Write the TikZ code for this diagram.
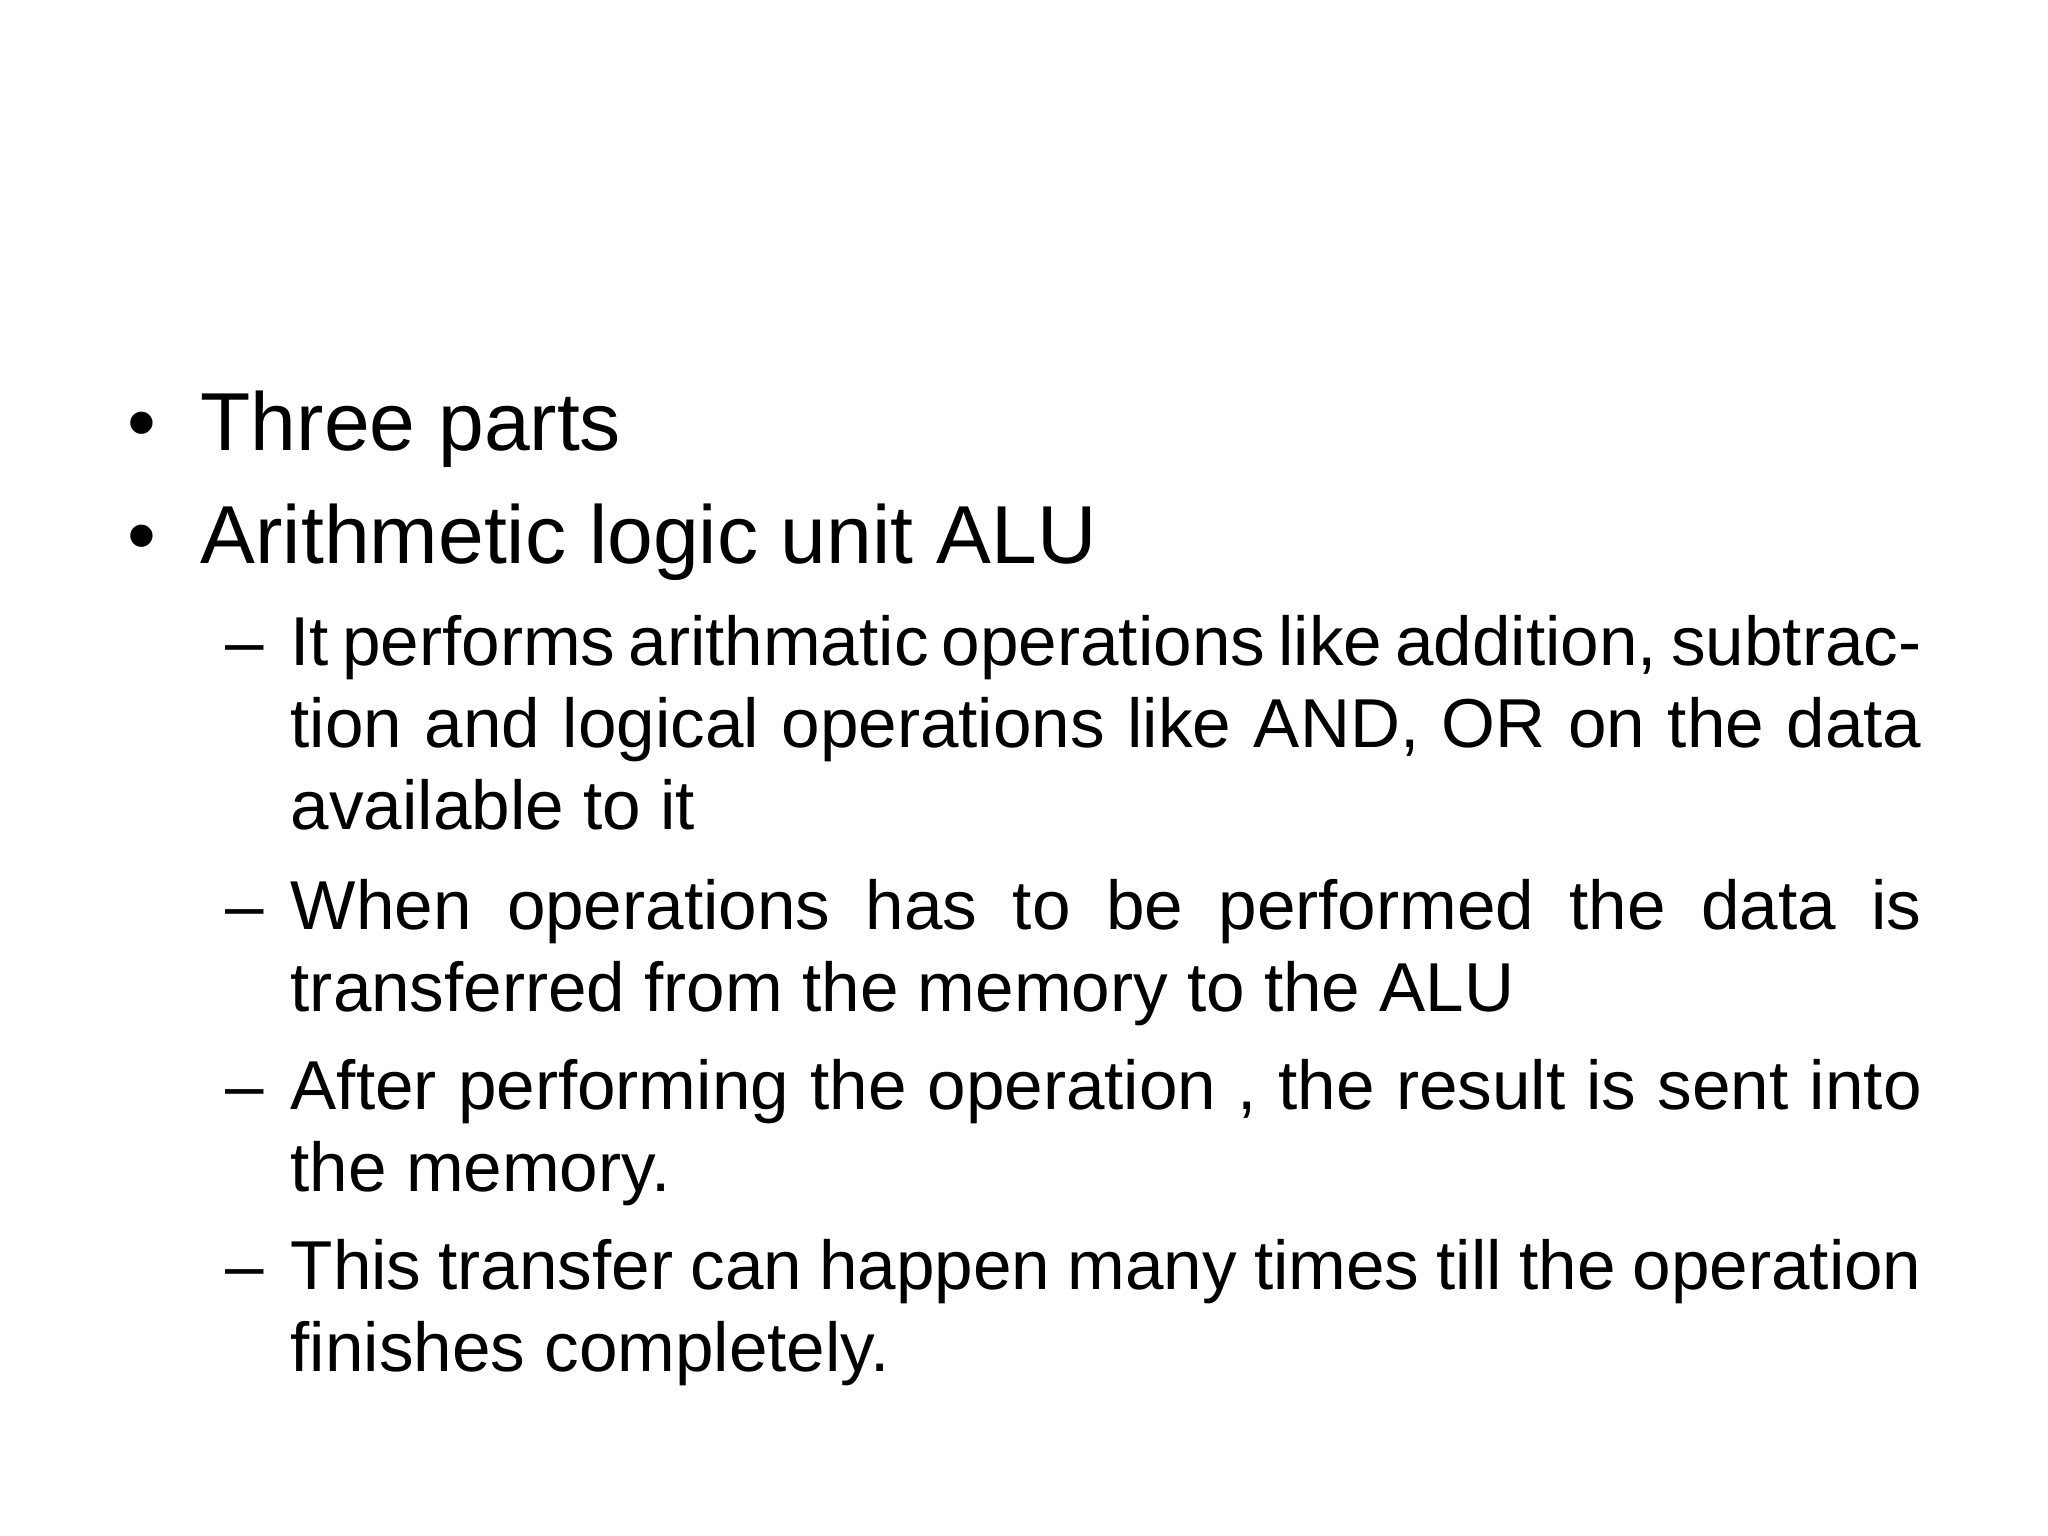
\documentclass[tikz,border=0pt]{standalone}
\usepackage{fontspec}
\setmainfont{Liberation Sans}
\usetikzlibrary{positioning}
\tikzset{
    mainitem/.style={anchor=base west, inner sep=0pt, font=\fontsize{23.4}{28}\selectfont},
    subitem/.style={anchor=base west, inner sep=0pt, text width=16.31cm, align=justify,
        font=\fontsize{19.7}{23.2}\selectfont},
    submark/.style={anchor=base west, inner sep=0pt, font=\fontsize{19.7}{23.2}\selectfont}
}
\begin{document}
\begin{tikzpicture}
    \useasboundingbox (0,0) rectangle (20.48,15.36);
%____________________________________________________________________________________________________
    \node[mainitem] (dotA) at (1.27,10.85) {•};
    \node[mainitem] (three) at (2.0,10.85) {Three parts};
    \node[mainitem] (dotB) at (1.27,9.72) {•};
    \node[mainitem] (alu) at (2.0,9.72) {Arithmetic logic unit ALU};
%____________________________________________________________________________________________________
    \node[submark] (dashA) at (2.25,8.70) {–};
    \node[subitem] (perform) at (2.90,8.70) {It performs arithmatic operations like addition, subtraction and logical operations like AND, OR on the data available to it};

    \node[submark] (dashB) at (2.25,6.06) {–};
    \node[subitem] (when) at (2.90,6.06) {When operations has to be performed the data is transferred from the memory to the ALU};

    \node[submark] (dashC) at (2.25,4.26) {–};
    \node[subitem] (after) at (2.90,4.26) {After performing the operation , the result is sent into the memory.};

    \node[submark] (dashD) at (2.25,2.46) {–};
    \node[subitem] (transfer) at (2.90,2.46) {This transfer can happen many times till the operation finishes completely.};
\end{tikzpicture}
\end{document}
